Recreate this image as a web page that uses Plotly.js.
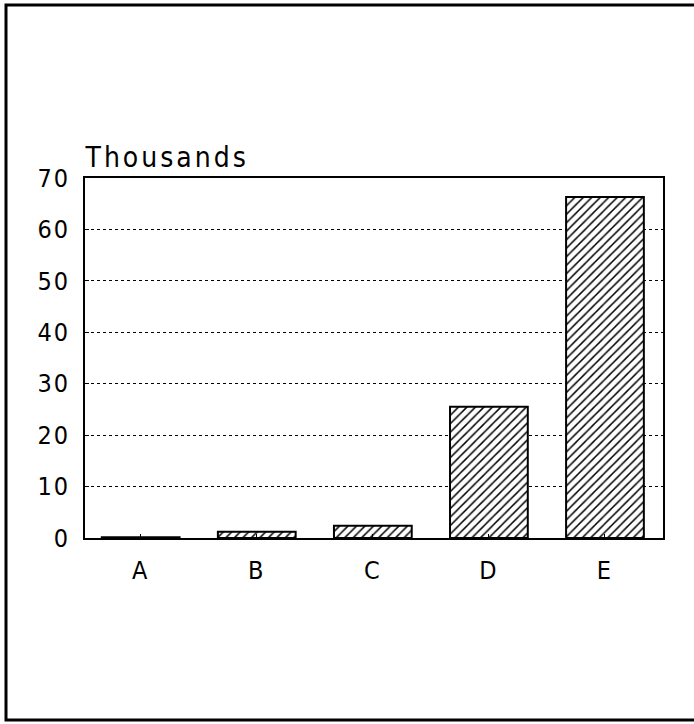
<!DOCTYPE html>
<html><head><meta charset="utf-8">
<script src="https://cdn.plot.ly/plotly-3.0.1.min.js"></script>
<style>
body{margin:0;background:#fff}#c{width:694px;height:724px}
#c text{font-stretch:condensed !important;letter-spacing:2px !important}
#c .annotation-text{letter-spacing:3px !important}
</style>
</head><body><div id="c"></div>
<script>
const categories = ["A", "B", "C", "D", "E"];
const values = [0.15, 1.2, 2.4, 25.5, 66.3];
const yTicks = [0, 10, 20, 30, 40, 50, 60, 70];
const unitLabel = "Thousands";

const W = 694, H = 724;
const L = 85, R = 31, T = 178, B = 186;
const pw = W - L - R, ph = H - T - B;
const px = x => (x - L) / pw;
const py = y => (H - B - y) / ph;

const fam = "DejaVu Sans Condensed, Liberation Sans Narrow, DejaVu Sans, sans-serif";
const font = {family: fam, size: 25, color: "#000"};

Plotly.newPlot("c", [{
  type: "bar",
  x: categories,
  y: values,
  width: 0.67,
  marker: {
    color: "#fff",
    line: {color: "#000", width: 2},
    pattern: {shape: "/", fgcolor: "#000", bgcolor: "#fff", size: 6, solidity: 0.25}
  },
  hoverinfo: "none"
}], {
  width: W, height: H,
  margin: {l: L, r: R, t: T, b: B},
  paper_bgcolor: "#fff", plot_bgcolor: "#fff",
  showlegend: false,
  font: font,
  xaxis: {
    range: [-0.48, 4.5],
    showline: true, linecolor: "#000", linewidth: 2, mirror: true,
    ticks: "inside", ticklen: 4, tickcolor: "#000",
    showgrid: false, zeroline: false,
    tickfont: font, ticklabelstandoff: 9
  },
  yaxis: {
    range: [0, 70],
    tickvals: yTicks,
    showline: true, linecolor: "#000", linewidth: 2, mirror: true,
    ticks: "inside", ticklen: 4, tickcolor: "#000",
    showgrid: true, gridcolor: "#000", gridwidth: 1, griddash: "dot",
    zeroline: false,
    tickfont: font, ticklabelstandoff: 8
  },
  annotations: [{
    text: unitLabel, showarrow: false,
    xref: "paper", yref: "paper",
    x: px(96), y: py(157), xanchor: "left", yanchor: "middle",
    font: {family: fam, size: 28, color: "#000"}
  }],
  shapes: [{
    type: "rect", xref: "paper", yref: "paper",
    x0: px(6), x1: px(700), y0: py(720), y1: py(5),
    line: {color: "#000", width: 3}, fillcolor: "rgba(0,0,0,0)"
  }]
}, {staticPlot: true});
</script></body></html>
